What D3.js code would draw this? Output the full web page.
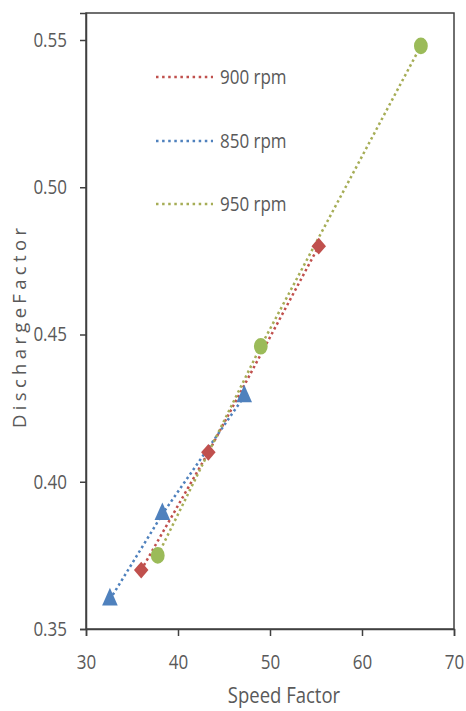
<!DOCTYPE html>
<html><head><meta charset="utf-8">
<script src="https://cdn.jsdelivr.net/npm/d3@7"></script>
<style>
html,body{margin:0;padding:0;background:#fff;}
text{font-family:"Open Sans","Noto Sans",sans-serif;fill:#595959;}
</style></head>
<body>
<svg id="chart" width="466" height="711"></svg>
<script>
const seriesNames = ["900 rpm", "850 rpm", "950 rpm"];
const speed900 = [36.0, 43.3, 55.3];
const discharge900 = [0.37, 0.41, 0.48];
const speed850 = [32.6, 38.3, 47.2];
const discharge850 = [0.36, 0.389, 0.429];
const speed950 = [37.8, 49.0, 66.4];
const discharge950 = [0.375, 0.446, 0.548];
const xTicks = [30, 40, 50, 60, 70];
const yTicks = [0.35, 0.40, 0.45, 0.50, 0.55];
const xLabel = "Speed Factor";
const yLabel = "DischargeFactor";

const series = [
  {name: seriesNames[0], xs: speed900, ys: discharge900, color: "#c0504d", line: "#c0504d", shape: "diamond"},
  {name: seriesNames[1], xs: speed850, ys: discharge850, color: "#4f81bd", line: "#4f81bd", shape: "triangle"},
  {name: seriesNames[2], xs: speed950, ys: discharge950, color: "#9bbb59", line: "#a6ad56", shape: "circle"}
];

const SY = 1.15; // vertical stretch of the source image
function stretch(sel) {
  sel.each(function () {
    const t = d3.select(this);
    const y0 = +t.attr("y") || 0;
    t.attr("transform", `translate(0,${y0 * (1 - SY)}) scale(1,${SY})`);
  });
}

const svg = d3.select("#chart");
const L = 86, R = 454, T = 13, B = 629;
const x = d3.scaleLinear().domain([30, 70]).range([L, R]);
const y = d3.scaleLinear().domain([0.35, 0.35 + (B - T) / 2945]).range([B, T]);

svg.append("rect").attr("x", L).attr("y", T).attr("width", R - L).attr("height", B - T)
  .attr("fill", "none").attr("stroke", "#404040").attr("stroke-width", 1.5);

const xAxis = svg.append("g").attr("transform", `translate(0,${B})`)
  .call(d3.axisBottom(x).tickValues(xTicks).tickFormat(d3.format("d")).tickSize(7).tickPadding(19));
const yAxis = svg.append("g").attr("transform", `translate(${L},0)`)
  .call(d3.axisLeft(y).tickValues(yTicks).tickFormat(d3.format(".2f")).tickSize(6).tickPadding(13));
[xAxis, yAxis].forEach(a => {
  a.select(".domain").attr("stroke", "#404040").attr("stroke-width", 1.5);
  a.selectAll(".tick line").attr("stroke", "#404040").attr("stroke-width", 1.5);
  a.selectAll(".tick text").style("font-size", "17px").attr("fill", "#595959");
});
stretch(xAxis.selectAll(".tick text"));
stretch(yAxis.selectAll(".tick text"));

const line = d3.line().x(d => x(d[0])).y(d => y(d[1]));
series.forEach(s => {
  const pts = s.xs.map((v, i) => [v, s.ys[i]]);
  svg.append("path").attr("d", line(pts)).attr("fill", "none")
    .attr("stroke", s.line).attr("stroke-width", 2.5)
    .attr("stroke-dasharray", "2.5,3");
});
const shapeDef = {
  diamond: {type: d3.symbolSquare, size: 105, rot: 45, sy: 1.15},
  triangle: {type: d3.symbolTriangle, size: 105, rot: 0, sy: 1.3},
  circle: {type: d3.symbolCircle, size: 150, rot: 0, sy: 1.2}
};
series.forEach(s => {
  const pts = s.xs.map((v, i) => [v, s.ys[i]]);
  const def = shapeDef[s.shape];
  svg.append("g").selectAll("path").data(pts).join("path")
    .attr("d", d3.symbol().type(def.type).size(def.size))
    .attr("transform", d => `translate(${x(d[0])},${y(d[1])}) scale(1,${def.sy}) rotate(${def.rot})`)
    .attr("fill", s.color);
});

const legY = [77, 141, 204];
series.forEach((s, i) => {
  svg.append("line").attr("x1", 156).attr("x2", 213).attr("y1", legY[i]).attr("y2", legY[i])
    .attr("stroke", s.line).attr("stroke-width", 2.5).attr("stroke-dasharray", "2.5,3.6");
  const t = svg.append("text").attr("x", 220).attr("y", legY[i]).attr("dy", "0.35em")
    .style("font-size", "17px").text(s.name);
  stretch(t);
});

const xt = svg.append("text").attr("x", 284).attr("y", 703).attr("text-anchor", "middle")
  .style("font-size", "18.5px").text(xLabel);
stretch(xt);
svg.append("text").attr("transform", "translate(26,328) rotate(-90)").attr("text-anchor", "middle")
  .style("font-size", "18.5px").attr("textLength", 200).attr("lengthAdjust", "spacing").text(yLabel);
</script>
</body></html>
